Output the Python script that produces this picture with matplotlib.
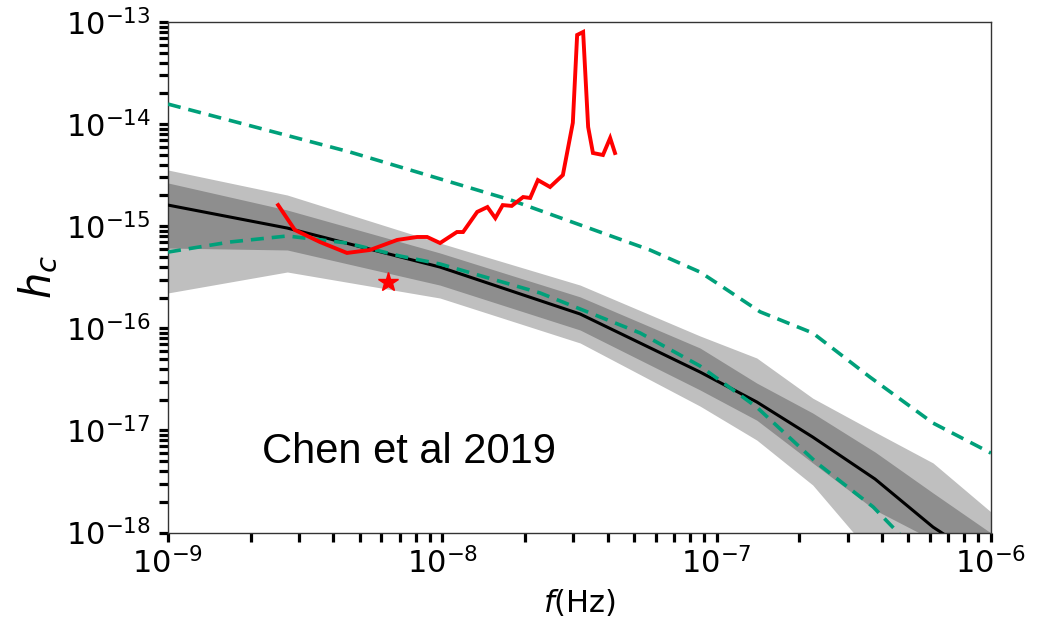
import matplotlib
matplotlib.use("Agg")
import matplotlib.pyplot as plt

# Frequency grid for the GWB spectrum and its credible bands
band_freq = [1.0e-9, 2.72e-9, 9.8e-9, 3.18e-8, 8.7e-8, 1.40e-7, 2.24e-7, 3.78e-7, 6.15e-7, 1.0e-6]
outer_hi = [3.55e-15, 2.02e-15, 6.84e-16, 2.65e-16, 8.41e-17, 5.12e-17, 2.07e-17, 9.64e-18, 4.80e-18, 1.59e-18]
inner_hi = [2.65e-15, 1.44e-15, 5.47e-16, 2.03e-16, 6.41e-17, 2.91e-17, 1.48e-17, 6.14e-18, 2.44e-18, 9.89e-19]
median_hc = [1.61e-15, 9.59e-16, 3.98e-16, 1.38e-16, 3.73e-17, 1.90e-17, 8.61e-18, 3.34e-18, 1.13e-18, 4.81e-19]
inner_lo = [6.11e-16, 5.85e-16, 2.65e-16, 9.62e-17, 2.49e-17, 1.26e-17, 4.80e-18, 1.66e-18, 8.45e-19, 3.43e-19]
outer_lo = [2.22e-16, 3.56e-16, 1.98e-16, 7.18e-17, 1.73e-17, 8.05e-18, 2.92e-18, 5.62e-19, 2.74e-19, 8.85e-20]

# Upper dashed model curve
upper_freq = [1.0e-9, 4.60e-9, 1.77e-8, 5.71e-8, 8.69e-8, 1.0e-7, 1.44e-7, 2.24e-7, 3.62e-7, 6.15e-7, 1.0e-6]
upper_hc = [1.57e-14, 5.33e-15, 1.81e-15, 5.85e-16, 3.56e-16, 2.78e-16, 1.45e-16, 9.0e-17, 3.33e-17, 1.18e-17, 6.0e-18]

# Lower dashed model curve
lower_freq = [1.0e-9, 1.68e-9, 2.72e-9, 4.50e-9, 7.02e-9, 9.82e-9, 2.27e-8, 5.26e-8, 8.69e-8,
              1.40e-7, 2.32e-7, 3.72e-7, 5.07e-7]
lower_hc = [5.58e-16, 7.0e-16, 8.02e-16, 6.84e-16, 5.10e-16, 4.26e-16, 2.22e-16, 9.0e-17, 4.28e-17,
            1.69e-17, 4.80e-18, 1.78e-18, 7.55e-19]

# PTA upper limit curve
limit_freq = [2.52e-9, 2.90e-9, 3.58e-9, 4.49e-9, 5.45e-9, 6.84e-9, 8.09e-9, 8.80e-9, 9.81e-9,
              1.13e-8, 1.19e-8, 1.34e-8, 1.46e-8, 1.56e-8, 1.66e-8, 1.79e-8, 1.97e-8, 2.09e-8,
              2.23e-8, 2.47e-8, 2.75e-8, 2.99e-8, 3.10e-8, 3.26e-8, 3.40e-8, 3.54e-8, 3.85e-8,
              4.09e-8, 4.26e-8]
limit_hc = [1.61e-15, 9.18e-16, 7.0e-16, 5.47e-16, 5.85e-16, 7.33e-16, 7.84e-16, 7.84e-16, 6.84e-16,
            8.77e-16, 8.77e-16, 1.38e-15, 1.54e-15, 1.20e-15, 1.61e-15, 1.58e-15, 1.93e-15, 1.89e-15,
            2.83e-15, 2.42e-15, 3.17e-15, 1.03e-14, 7.46e-14, 7.98e-14, 9.37e-15, 5.21e-15, 4.98e-15,
            7.31e-15, 5.21e-15]

# Single detection point
star_freq = [6.34e-9]
star_hc = [2.84e-16]

plt.rcParams["mathtext.fontset"] = "dejavusans"

fig = plt.figure(figsize=(10.45, 6.19), dpi=100)
ax = fig.add_axes([0.1608, 0.1397, 0.7875, 0.8248])

ax.fill_between(band_freq, outer_lo, outer_hi, color="#bfbfbf", lw=0, zorder=1)
ax.fill_between(band_freq, inner_lo, inner_hi, color="#8e8e8e", lw=0, zorder=2)
ax.plot(band_freq, median_hc, color="black", lw=2.2, zorder=3)

green = "#00a07a"
ax.plot(upper_freq, upper_hc, color=green, lw=2.6, ls=(0, (3.6, 2.2)), zorder=4)
ax.plot(lower_freq, lower_hc, color=green, lw=2.6, ls=(0, (3.6, 2.2)), zorder=4)

ax.plot(limit_freq, limit_hc, color="#ff0000", lw=2.8, zorder=5, solid_joinstyle="miter")
ax.plot(star_freq, star_hc, ls="none", marker="*", color="#ff0000", ms=15, zorder=6)

ax.set_xscale("log")
ax.set_yscale("log")
ax.set_xlim(1e-9, 1e-6)
ax.set_ylim(1e-18, 1e-13)

ax.tick_params(which="both", direction="out", length=6.5, width=2.3, color="black",
               labelsize=22, top=False, right=False)
ax.tick_params(axis="y", which="both", pad=6)
ax.tick_params(axis="x", which="both", pad=4)

for side in ax.spines.values():
    side.set_linewidth(1.0)
    side.set_color("#333333")

ax.set_xlabel("$f$(Hz)", fontsize=22, labelpad=5)
ax.set_ylabel("$h_c$", fontsize=30, labelpad=4)

ax.text(2.2e-9, 4.8e-18, "Chen et al 2019", fontsize=30, family="Liberation Sans",
        color="black", ha="left", va="baseline", zorder=7)

fig.savefig("out.png", dpi=100)
